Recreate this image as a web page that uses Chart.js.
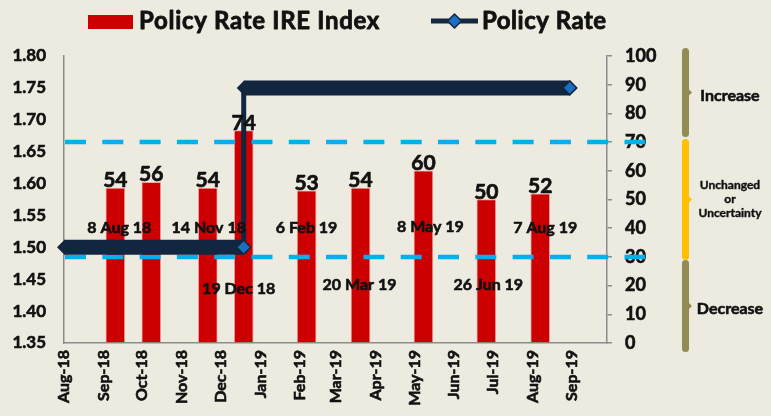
<!DOCTYPE html>
<html>
<head>
<meta charset="utf-8">
<script src="https://cdn.jsdelivr.net/npm/chart.js@4.4.1/dist/chart.umd.min.js"></script>
<style>
  html, body { margin: 0; padding: 0; background: #edebe0; }
  #wrap { width: 771px; height: 416px; position: relative; }
</style>
</head>
<body>
<div id="wrap"><canvas id="chart"></canvas></div>
<script>
// month ticks on the date axis
const tickLabels = ['Aug-18', 'Sep-18', 'Oct-18', 'Nov-18', 'Dec-18', 'Jan-19', 'Feb-19',
                    'Mar-19', 'Apr-19', 'May-19', 'Jun-19', 'Jul-19', 'Aug-19', 'Sep-19'];
const tickDates = ['2018-08-01', '2018-09-01', '2018-10-01', '2018-11-01', '2018-12-01', '2019-01-01', '2019-02-01',
                   '2019-03-01', '2019-04-01', '2019-05-01', '2019-06-01', '2019-07-01', '2019-08-01', '2019-09-01'];

// IRE index bars
const surveyDates = ['2018-09-10', '2018-10-08', '2018-11-21', '2018-12-19', '2019-02-06',
                     '2019-03-20', '2019-05-08', '2019-06-26', '2019-08-07'];
const ireIndex = [54, 56, 54, 74, 53, 54, 60, 50, 52];
const meetingLabels = ['8 Aug 18', '', '14 Nov 18', '19 Dec 18', '6 Feb 19',
                       '20 Mar 19', '8 May 19', '26 Jun 19', '7 Aug 19'];

// policy rate (step)
const policyDates = ['2018-08-01', '2018-12-19', '2018-12-19', '2019-08-30'];
const policyRates = [1.50, 1.50, 1.75, 1.75];

const thresholds = [30, 70];
const zoneBounds = [[70, 100], [30, 70], [0, 30]];
const zoneLabels = [['Increase'], ['Unchanged', 'or', 'Uncertainty'], ['Decrease']];

const START = Date.UTC(2018, 7, 1);
const toDay = s => (Date.parse(s) - START) / 86400000;

const FONT = 'Lato';
const INK = '#111';
const NAVY = '#13263f';
const DIAMOND = '#1b6fc2';

// bold text with a hairline stroke, a bit heavier than plain Lato bold
function heavyText(ctx, text, x, y, w) {
    ctx.lineWidth = w || 0.6;
    ctx.strokeStyle = INK;
    ctx.lineJoin = 'round';
    ctx.strokeText(text, x, y);
    ctx.fillText(text, x, y);
}

const decor = {
    id: 'decor',
    afterDatasetDraw(chart, args) {
        if (args.index !== 1) return;
        const { ctx, chartArea, scales: { y1 } } = chart;
        ctx.save();
        ctx.strokeStyle = '#00b0f0';
        ctx.lineWidth = 4.5;
        ctx.setLineDash([21, 16.3]);
        thresholds.forEach(v => {
            const py = y1.getPixelForValue(v);
            ctx.beginPath();
            ctx.moveTo(chartArea.left + 1, py);
            ctx.lineTo(chartArea.right + 38, py);
            ctx.stroke();
        });
        ctx.restore();
    },
    afterDatasetsDraw(chart) {
        const { ctx, scales: { y } } = chart;
        ctx.save();
        // pointed left ends of the thick policy-rate segments
        const pts = chart.getDatasetMeta(0).data;
        ctx.fillStyle = NAVY;
        for (let i = 0; i < pts.length - 1; i++) {
            const horiz = policyRates[i] === policyRates[i + 1];
            const prevHoriz = i > 0 && policyRates[i - 1] === policyRates[i];
            if (horiz && !prevHoriz) {
                const p = pts[i];
                ctx.beginPath();
                ctx.moveTo(p.x + 0.5, p.y - 7.5);
                ctx.lineTo(p.x - 7, p.y);
                ctx.lineTo(p.x + 0.5, p.y + 7.5);
                ctx.closePath();
                ctx.fill();
            }
        }
        // bar values and meeting dates
        const bars = chart.getDatasetMeta(1).data;
        const nudge = [[4, 0], [0, 0], [1, 0], [-5, 3], [0, 0], [-1, -1], [7, -1], [2, -1], [5, 0]];
        const lowRow = [3, 5, 7];
        ctx.fillStyle = INK;
        ctx.textAlign = 'center';
        bars.forEach((b, i) => {
            ctx.font = `bold 21px ${FONT}`;
            ctx.textBaseline = 'alphabetic';
            heavyText(ctx, String(ireIndex[i]), b.x, b.y - 1, 0.7);
            if (meetingLabels[i]) {
                ctx.font = `bold 16px ${FONT}`;
                ctx.textBaseline = 'middle';
                const lvl = lowRow.includes(i) ? 1.44 : 1.53;
                heavyText(ctx, meetingLabels[i], b.x + nudge[i][0], y.getPixelForValue(lvl) + nudge[i][1]);
            }
        });
        ctx.restore();
    },
    afterDraw(chart) {
        const { ctx, scales: { y1 } } = chart;
        ctx.save();
        // brackets on the right
        const pads = [[-8, -5], [-3, 3], [3, 9]];
        const colors = ['#948a54', '#ffc000', '#948a54'];
        zoneBounds.forEach((z, i) => {
            const top = y1.getPixelForValue(z[1]) + pads[i][0];
            const bot = y1.getPixelForValue(z[0]) + pads[i][1];
            const mid = (top + bot) / 2;
            ctx.fillStyle = colors[i];
            ctx.beginPath();
            ctx.roundRect(682, top, 7, bot - top, 3.5);
            ctx.fill();
            ctx.beginPath();
            ctx.moveTo(688, mid - 4);
            ctx.lineTo(692, mid);
            ctx.lineTo(688, mid + 4);
            ctx.closePath();
            ctx.fill();
            ctx.fillStyle = INK;
            ctx.textAlign = 'center';
            ctx.textBaseline = 'middle';
            const lines = zoneLabels[i];
            if (lines.length === 1) {
                ctx.font = `bold 16px ${FONT}`;
                heavyText(ctx, lines[0], 730, mid + 3);
            } else {
                ctx.font = `bold 12px ${FONT}`;
                lines.forEach((t, k) => heavyText(ctx, t, 730, mid + (k - 1) * 14, 0.4));
            }
        });
        // legend
        ctx.fillStyle = '#cc0000';
        ctx.fillRect(88, 15, 45, 14);
        ctx.fillStyle = INK;
        ctx.font = `bold 24px ${FONT}`;
        ctx.textAlign = 'left';
        ctx.textBaseline = 'middle';
        ctx.letterSpacing = '0.7px';
        heavyText(ctx, chart.data.datasets[1].label, 139, 21, 0.8);
        ctx.letterSpacing = '0.5px';
        heavyText(ctx, chart.data.datasets[0].label, 482, 21, 0.8);
        ctx.letterSpacing = '0px';
        ctx.strokeStyle = NAVY;
        ctx.lineWidth = 5;
        ctx.beginPath();
        ctx.moveTo(431, 21);
        ctx.lineTo(478, 21);
        ctx.stroke();
        ctx.fillStyle = DIAMOND;
        ctx.strokeStyle = NAVY;
        ctx.lineWidth = 1.5;
        ctx.beginPath();
        ctx.moveTo(454.5, 14);
        ctx.lineTo(461.5, 21);
        ctx.lineTo(454.5, 28);
        ctx.lineTo(447.5, 21);
        ctx.closePath();
        ctx.fill();
        ctx.stroke();
        ctx.restore();
    }
};

const tickStyle = { color: INK, textStrokeColor: INK, textStrokeWidth: 0.6 };

new Chart(document.getElementById('chart'), {
    type: 'bar',
    data: {
        datasets: [
            {
                type: 'line',
                label: 'Policy Rate',
                yAxisID: 'y',
                data: policyDates.map((d, i) => ({ x: toDay(d), y: policyRates[i] })),
                borderColor: NAVY,
                borderWidth: 15,
                segment: {
                    borderWidth: c => c.p0.parsed.x === c.p1.parsed.x ? 5 : 15
                },
                pointRadius: [0, 7, 0, 7],
                pointStyle: 'rectRot',
                pointBackgroundColor: DIAMOND,
                pointBorderColor: NAVY,
                pointBorderWidth: 1.5,
                fill: false,
                tension: 0,
                clip: false
            },
            {
                type: 'bar',
                label: 'Policy Rate IRE Index',
                yAxisID: 'y1',
                data: surveyDates.map((d, i) => ({ x: toDay(d), y: ireIndex[i] })),
                backgroundColor: '#cc0000',
                borderColor: 'rgba(240,150,150,0.8)',
                borderWidth: 1,
                barThickness: 19
            }
        ]
    },
    options: {
        responsive: true,
        maintainAspectRatio: false,
        animation: false,
        layout: { padding: { top: 56, left: 0, right: 0, bottom: 0 } },
        plugins: {
            legend: { display: false },
            tooltip: { enabled: false }
        },
        scales: {
            x: {
                type: 'linear',
                offset: false,
                min: 0,
                max: toDay('2019-09-28'),
                grid: { display: false, drawTicks: false },
                border: { display: true, color: '#8c8c8c', width: 1.5 },
                afterBuildTicks: s => { s.ticks = tickDates.map(d => ({ value: toDay(d) })); },
                afterFit: s => { s.height = 73; },
                ticks: {
                    ...tickStyle,
                    autoSkip: false,
                    minRotation: 90,
                    maxRotation: 90,
                    padding: 7,
                    font: { family: FONT, size: 16, weight: 'bold' },
                    callback: (v, i) => tickLabels[i]
                }
            },
            y: {
                position: 'left',
                min: 1.35,
                max: 1.80,
                grid: { display: false, drawTicks: false },
                border: { display: true, color: '#8c8c8c', width: 1.5 },
                afterFit: s => { s.width = 64; },
                ticks: {
                    ...tickStyle,
                    stepSize: 0.05,
                    padding: 18,
                    font: { family: FONT, size: 17, weight: 'bold' },
                    callback: v => v.toFixed(2)
                }
            },
            y1: {
                position: 'right',
                min: 0,
                max: 100,
                grid: { display: true, drawOnChartArea: false, drawTicks: true, tickLength: 5, color: '#8c8c8c', lineWidth: 1.5 },
                border: { display: true, color: '#8c8c8c', width: 1.5 },
                afterFit: s => { s.width = 164; },
                ticks: {
                    ...tickStyle,
                    stepSize: 10,
                    padding: 13,
                    font: { family: FONT, size: 18, weight: 'bold' }
                }
            }
        }
    },
    plugins: [decor]
});
</script>
</body>
</html>
